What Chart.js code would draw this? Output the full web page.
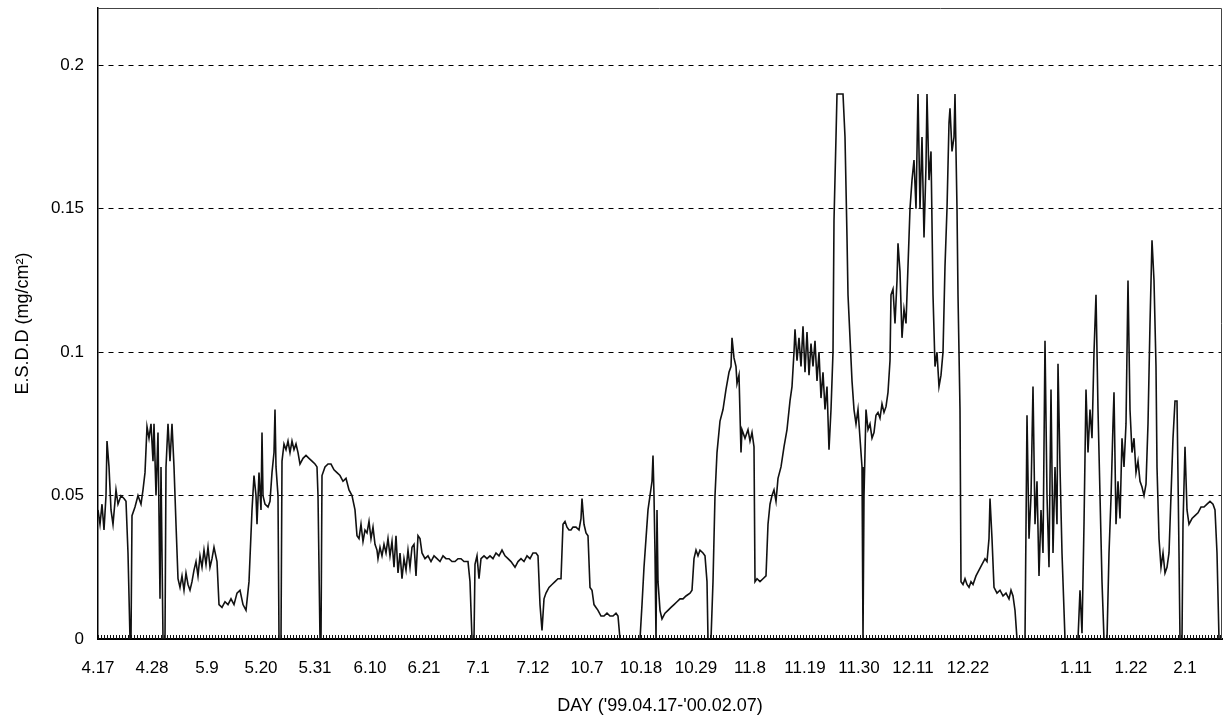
<!DOCTYPE html>
<html>
<head>
<meta charset="utf-8">
<script src="https://cdn.jsdelivr.net/npm/chart.js@4.4.1/dist/chart.umd.min.js"></script>
<style>
  body { margin: 0; background: #fff; }
  #wrap { width: 1224px; height: 720px; }
</style>
</head>
<body>
<div id="wrap"><canvas id="grafico" width="1224" height="720"></canvas></div>
<script>
/* observation index along the record and the matching E.S.D.D readings */
const obs = [
  0,2,4,6,8,9,11,13,15,17,
  18,20,23,26,28,30,32,33,34,37,
  40,43,45,47,49,51,53,55,56,58,
  60,62,63,65,67,68,70,72,74,76,
  78,80,82,84,86,88,90,92,94,96,
  98,100,102,104,106,108,110,112,114,116,
  119,121,124,127,130,133,136,139,142,145,
  148,151,154,156,158,159,161,163,164,165,
  167,170,172,174,176,177,178,180,181,183,
  184,186,188,190,192,194,196,198,200,202,
  205,208,211,214,217,219,220,222,223,224,
  227,230,233,236,239,242,245,248,251,254,
  257,259,261,263,265,267,269,271,273,275,
  277,279,280,282,284,286,288,290,292,294,
  296,298,300,302,304,306,308,310,312,314,
  316,318,320,322,324,327,330,333,336,339,
  342,345,348,351,354,357,360,363,366,370,
  372,374,376,377,379,381,383,386,389,392,
  395,398,401,404,407,410,413,417,420,423,
  426,429,432,435,438,440,442,444,446,448,
  451,454,457,460,463,465,467,469,471,473,
  475,478,481,483,484,486,488,490,492,494,
  496,498,500,503,506,509,512,515,518,520,
  522,532,542,544,546,548,550,552,554,555,
  556,557,558,559,560,562,564,567,570,573,
  576,579,582,585,588,592,594,596,598,600,
  602,605,607,609,610,613,615,617,619,622,
  625,628,631,633,634,636,638,639,641,643,
  644,647,650,652,654,656,657,659,662,665,
  668,670,672,674,676,678,680,683,686,689,
  692,694,696,697,699,701,703,705,707,709,
  711,713,715,717,719,721,723,725,727,729,
  731,733,735,736,738,739,742,745,747,749,
  750,752,754,756,758,760,762,764,765,766,
  768,770,772,774,776,778,780,782,784,786,
  788,790,792,793,795,797,799,800,802,804,
  806,808,810,812,814,816,818,820,822,824,
  826,828,829,831,833,835,837,839,841,843,
  845,847,849,851,852,854,856,857,859,860,
  862,863,865,867,869,871,873,875,878,881,
  884,887,889,891,892,894,896,899,902,905,
  908,911,913,915,917,919,927,929,931,933,
  935,937,939,941,943,945,947,949,951,953,
  955,957,959,960,962,964,966,967,980,982,
  984,986,988,990,992,994,996,998,1000,1002,
  1004,1006,1009,1011,1013,1015,1016,1018,1020,1022,
  1024,1026,1028,1030,1032,1034,1036,1038,1040,1042,
  1044,1046,1048,1050,1052,1054,1056,1058,1059,1061,
  1063,1065,1067,1069,1071,1073,1075,1077,1079,1081,
  1082,1084,1085,1087,1089,1091,1094,1097,1100,1103,
  1106,1109,1112,1115,1117,1119,1121
]

const esdd = [
  .045,.040,.047,.038,.050,.069,.060,.045,.040,.048,
  .052,.047,.050,.049,.048,.030,.000,.000,.043,.046,
  .050,.047,.052,.058,.074,.070,.075,.062,.075,.050,
  .072,.014,.060,.000,.000,.060,.075,.062,.075,.060,
  .040,.021,.018,.022,.017,.023,.019,.017,.020,.024,
  .027,.022,.029,.025,.031,.026,.032,.025,.028,.032,
  .027,.012,.011,.013,.012,.014,.012,.016,.017,.012,
  .010,.020,.045,.057,.050,.040,.058,.045,.072,.050,
  .047,.046,.048,.058,.065,.080,.060,.050,.000,.000,
  .062,.068,.066,.069,.065,.069,.066,.068,.065,.061,
  .063,.064,.063,.062,.061,.060,.050,.000,.000,.057,
  .060,.061,.061,.059,.058,.057,.055,.056,.052,.050,
  .045,.036,.035,.040,.034,.038,.037,.041,.035,.039,
  .033,.031,.028,.032,.029,.033,.030,.035,.029,.034,
  .025,.036,.023,.030,.021,.028,.024,.031,.025,.032,
  .033,.022,.036,.035,.030,.028,.029,.027,.029,.028,
  .027,.029,.028,.028,.027,.027,.028,.028,.027,.027,
  .020,.000,.000,.026,.029,.021,.028,.029,.028,.029,
  .028,.030,.029,.031,.029,.028,.027,.025,.027,.028,
  .027,.029,.028,.030,.030,.029,.012,.003,.014,.016,
  .018,.019,.020,.021,.021,.040,.041,.039,.038,.038,
  .039,.039,.038,.042,.049,.040,.037,.036,.018,.017,
  .012,.011,.010,.008,.008,.009,.008,.008,.009,.008,
  .000,.000,.000,.012,.025,.035,.045,.050,.055,.064,
  .050,.030,.000,.045,.020,.010,.007,.009,.010,.011,
  .012,.013,.014,.014,.015,.016,.017,.028,.031,.029,
  .031,.030,.029,.020,.000,.000,.020,.050,.065,.076,
  .080,.087,.093,.095,.105,.098,.095,.089,.092,.065,
  .073,.070,.073,.069,.072,.067,.020,.021,.020,.021,
  .022,.040,.047,.050,.052,.048,.056,.060,.067,.073,
  .083,.088,.100,.108,.097,.105,.095,.109,.093,.107,
  .092,.103,.095,.104,.090,.100,.084,.093,.080,.088,
  .066,.080,.100,.146,.175,.190,.190,.190,.175,.140,
  .120,.105,.090,.080,.075,.080,.070,.060,.000,.050,
  .080,.073,.075,.070,.072,.078,.079,.077,.082,.079,
  .081,.086,.097,.120,.122,.110,.125,.138,.128,.105,
  .115,.110,.130,.150,.160,.167,.150,.190,.150,.175,
  .140,.165,.190,.160,.170,.120,.095,.100,.088,.092,
  .100,.130,.150,.180,.185,.170,.175,.190,.150,.120,
  .080,.020,.019,.021,.019,.018,.020,.019,.022,.024,
  .026,.028,.027,.035,.049,.035,.018,.016,.017,.015,
  .016,.014,.017,.015,.010,.000,.000,.078,.035,.050,
  .088,.040,.055,.022,.045,.030,.104,.050,.025,.087,
  .030,.060,.040,.096,.060,.030,.010,.000,.000,.017,
  .002,.040,.087,.065,.080,.070,.100,.120,.080,.050,
  .020,.000,.000,.030,.049,.075,.086,.040,.055,.042,
  .070,.060,.075,.125,.080,.065,.070,.058,.062,.055,
  .053,.050,.054,.075,.110,.139,.125,.095,.060,.035,
  .025,.030,.023,.025,.030,.050,.070,.083,.083,.030,
  .000,.000,.040,.067,.045,.040,.042,.043,.044,.046,
  .046,.047,.048,.047,.045,.030,.000
]

/* date labels, one every 11 days of record */
const tickAt = [0,54,109,163,217,272,326,380,435,489,543,598,652,707,761,815,870,924,978,1033,1087]
const tickNames = ['4.17','4.28','5.9','5.20','5.31','6.10','6.21','7.1','7.12','10.7','10.18',
                   '10.29','11.8','11.19','11.30','12.11','12.22','','1.11','1.22','2.1']
const yTicks = [0, 0.05, 0.1, 0.15, 0.2]
const lastObs = 1124

const fonteTick = { family: "'Liberation Sans', Arial, sans-serif", size: 17 }
const fonteTitulo = { family: "'Liberation Sans', Arial, sans-serif", size: 18 }

/* frame around the plot and the small ticks along the bottom */
const moldura = {
  id: 'moldura',
  afterDraw(chart) {
    const { ctx, chartArea: a, scales: { x } } = chart
    ctx.save()
    ctx.strokeStyle = '#444'
    ctx.lineWidth = 1
    ctx.beginPath()
    ctx.moveTo(a.left, a.top + 0.5)
    ctx.lineTo(a.right - 0.5, a.top + 0.5)
    ctx.lineTo(a.right - 0.5, a.bottom)
    ctx.stroke()
    ctx.strokeStyle = '#111'
    ctx.beginPath()
    for (let i = 0; i <= lastObs; i += 3) {
      const px = Math.round(x.getPixelForValue(i)) + 0.5
      ctx.moveTo(px, a.bottom)
      ctx.lineTo(px, a.bottom - 4)
    }
    ctx.stroke()
    ctx.restore()
  }
}

const grafico = new Chart(document.getElementById('grafico'), {
  type: 'line',
  data: {
    datasets: [{
      label: 'E.S.D.D',
      data: obs.map((o, i) => ({ x: o, y: esdd[i] })),
      borderColor: '#111',
      borderWidth: 1.6,
      pointRadius: 0,
      tension: 0,
      fill: false
    }]
  },
  options: {
    responsive: false,
    animation: false,
    devicePixelRatio: 1,
    layout: { padding: { top: 8, right: 2, left: 0, bottom: 0 } },
    plugins: { legend: { display: false }, tooltip: { enabled: false } },
    scales: {
      x: {
        type: 'linear',
        min: 0,
        max: lastObs,
        afterBuildTicks: s => { s.ticks = tickAt.map(v => ({ value: v })) },
        afterFit: s => { s.height = 81; s.paddingLeft = 0; s.paddingRight = 0 },
        grid: { display: false, drawTicks: false },
        border: { display: true, color: '#000', width: 2 },
        ticks: {
          autoSkip: false,
          maxRotation: 0,
          padding: 19,
          color: '#000',
          font: fonteTick,
          callback: v => tickNames[tickAt.indexOf(v)]
        },
        title: {
          display: true,
          text: "DAY ('99.04.17-'00.02.07)",
          color: '#000',
          font: fonteTitulo,
          padding: { top: 0, bottom: 3 }
        }
      },
      y: {
        min: 0,
        max: 0.22,
        afterBuildTicks: s => { s.ticks = yTicks.map(v => ({ value: v })) },
        afterFit: s => { s.width = 98; s.paddingTop = 0; s.paddingBottom = 0 },
        grid: {
          color: c => c.tick && c.tick.value === 0 ? 'rgba(0,0,0,0)' : '#000',
          lineWidth: 1,
          drawTicks: false
        },
        border: { display: true, color: '#000', width: 1.5, dash: [5, 5] },
        ticks: {
          padding: 14,
          color: '#000',
          font: fonteTick,
          callback: v => String(v)
        },
        title: {
          display: true,
          text: 'E.S.D.D (mg/cm²)',
          color: '#000',
          font: fonteTitulo,
          padding: { top: 12, bottom: 0 }
        }
      }
    }
  },
  plugins: [moldura]
})
</script>
</body>
</html>
